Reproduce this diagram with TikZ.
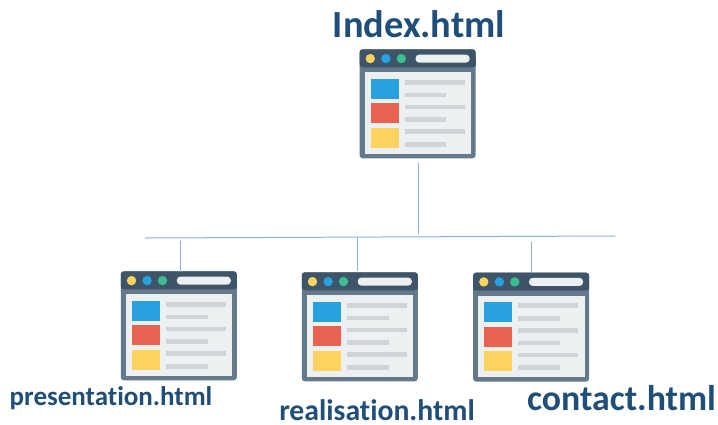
\documentclass[tikz,border=0pt]{standalone}
\usepackage{fontspec}
\setmainfont[Ligatures=NoCommon]{Carlito}
\definecolor{titlecol}{HTML}{1F4E79}
\definecolor{linkcol}{HTML}{86B2E0}
\definecolor{barcol}{HTML}{3E5468}
\definecolor{framecol}{HTML}{64798A}
\definecolor{panecol}{HTML}{ECF0F1}
\definecolor{rowcol}{HTML}{D2D3D9}
\definecolor{sunny}{HTML}{FDD25F}
\definecolor{sky}{HTML}{27A2DE}
\definecolor{mint}{HTML}{3DBE91}
\definecolor{brick}{HTML}{E86352}
\tikzset{
  winbox/.style={minimum width=116pt,minimum height=109pt,inner sep=0pt},
  pagename/.style={anchor=base,font=\bfseries,text=titlecol,inner sep=0pt},
  link/.style={color=linkcol,line width=1pt},
  window/.pic={
    \fill[framecol] (0,0) [rounded corners=3pt] rectangle (116,109);
    \fill[barcol,rounded corners=3pt] (0,0) rectangle (116,18);
    \fill[barcol] (0,10) rectangle (116,17);
    \fill[panecol] (5,23) rectangle (111.5,104.5);
    \foreach \x/\c in {10.7/sunny,26.3/sky,41.7/mint}
      \fill[\c] (\x,9.3) circle (4.7);
    \fill[panecol,rounded corners=3.5pt] (56,5.3) rectangle (110,13.3);
    \foreach \y/\c in {29.3/sky,54/brick,78.7/sunny}{
      \fill[\c] (11,\y) rectangle (39,\y+20);
      \fill[rowcol] (45.3,\y+1.4) rectangle (105,\y+6);
      \fill[rowcol] (45.3,\y+14) rectangle (86.7,\y+18.7);
    }
  }
}
\begin{document}
\begin{tikzpicture}[line cap=round,line join=round,x=1pt,y=-1pt]
  \useasboundingbox (0,0) rectangle (718,424);
  % windows
  \node[winbox] (index) at (417.8,104) {};
  \node[winbox] (pres) at (179,326) {};
  \node[winbox] (real) at (360,327) {};
  \node[winbox] (cont) at (531.3,327.3) {};
  \foreach \w in {index,pres,real,cont}
    \pic at (\w.north west) {window};
  % file names
  \node[pagename,font=\bfseries\fontsize{38.4}{38.4}\selectfont] (indexname) at (419,37) {Index.html};
  \node[pagename,font=\bfseries\fontsize{27}{27}\selectfont] (presname) at (111,405) {presentation.html};
  \node[pagename,font=\bfseries\fontsize{29.7}{29.7}\selectfont] (realname) at (377,420) {realisation.html};
  \node[pagename,font=\bfseries\fontsize{35.8}{35.8}\selectfont] (contname) at (621.5,410) {contact.html};
  % tree lines
  \coordinate (barleft) at (145,238);
  \coordinate (barright) at (615,236);
  \coordinate (indexfoot) at (418,163);
  \coordinate (indexjoin) at (418,234);
  \coordinate (presjoin) at (180,241);
  \coordinate (realjoin) at (357,238);
  \coordinate (contjoin) at (531,242);
  \draw[link] (barleft) -- (barright);
  \draw[link] (indexfoot) -- (indexjoin);
  \draw[link] (presjoin) -- (presjoin |- pres.north);
  \draw[link] (realjoin) -- ([yshift=2pt]realjoin |- real.north);
  \draw[link] (contjoin) -- (contjoin |- cont.north);
\end{tikzpicture}
\end{document}
